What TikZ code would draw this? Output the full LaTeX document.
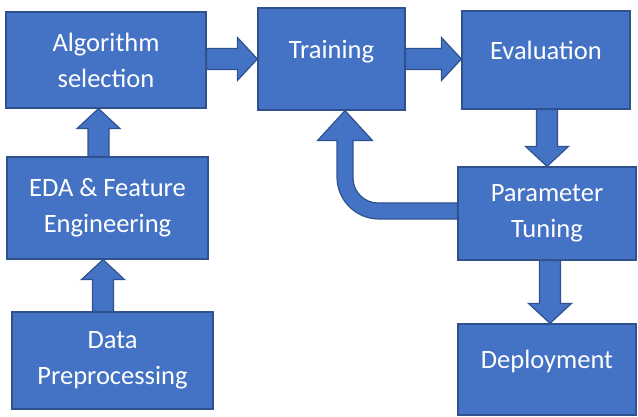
\documentclass[tikz,border=0pt]{standalone}
\usepackage{fontspec}
\setmainfont{Carlito}
\usetikzlibrary{calc}
\definecolor{officeblue}{RGB}{68,114,196}
\definecolor{officeedge}{RGB}{47,82,143}

\tikzset{
  flow/.style={draw=officeedge, fill=officeblue, line width=1.2pt, line join=miter},
  stage/.style={flow, text=white, align=center, inner sep=0pt,
                font=\fontsize{26.5}{36}\selectfont},
  oneline/.style={text height=18pt, text depth=19pt},
  % fat arrow: shaft 21pt wide, head 43pt wide and 20pt long
  blockarrow/.style={flow, to path={
      ($(\tikztostart)!10.5pt!90:(\tikztotarget)$)
      -- ($($(\tikztotarget)!20pt!(\tikztostart)$)!10.5pt!90:(\tikztotarget)$)
      -- ($($(\tikztotarget)!20pt!(\tikztostart)$)!21.5pt!90:(\tikztotarget)$)
      -- (\tikztotarget)
      -- ($($(\tikztotarget)!20pt!(\tikztostart)$)!21.5pt!-90:(\tikztotarget)$)
      -- ($($(\tikztotarget)!20pt!(\tikztostart)$)!10.5pt!-90:(\tikztotarget)$)
      -- ($(\tikztostart)!10.5pt!-90:(\tikztotarget)$)
      -- cycle}}
}

\begin{document}
\begin{tikzpicture}[x=1pt, y=1pt]
  \useasboundingbox (0,0) rectangle (638,417);

  % stages
  \node[stage, minimum width=200pt, minimum height=96pt]           (algo)   at (106,357)    {Algorithm\\selection};
  \node[stage, oneline, minimum width=147pt, minimum height=102pt] (train)  at (331.5,358)  {Training};
  \node[stage, oneline, minimum width=168pt, minimum height=98pt]  (eval)   at (546,357)    {Evaluation};
  \node[stage, minimum width=201pt, minimum height=102pt]          (eda)    at (107.5,209)  {EDA \& Feature\\Engineering};
  \node[stage, minimum width=178pt, minimum height=93pt]           (param)  at (547,203.5)  {Parameter\\Tuning};
  \node[stage, minimum width=201pt, minimum height=97pt]           (data)   at (112.5,56.5) {Data\\Preprocessing};
  \node[stage, oneline, minimum width=178pt, minimum height=91pt]  (deploy) at (547,47.5)   {Deployment};

  % straight arrows
  \path[blockarrow] ([xshift=-9.5pt]data.north) to ([xshift=-9.5pt]data.north |- eda.south);
  \path[blockarrow] ([xshift=-9pt]eda.north) to ([xshift=-9pt]eda.north |- algo.south);
  \path[blockarrow] (algo.east |- train.west) to (train.west);
  \path[blockarrow] (train.east) to (train.east -| eval.west);
  \path[blockarrow] (param.north |- eval.south) to (param.north);
  \path[blockarrow] ([xshift=3pt]param.south) to ([xshift=3pt]param.south |- deploy.north);

  % loop back from tuning to training
  \path[flow] let \p1=([yshift=2.5pt]param.west), \p2=([xshift=13.5pt]train.south) in
    (\x1,\y1+8pt) -- (\x2+33pt,\y1+8pt) arc[start angle=270, end angle=180, radius=25pt]
    -- (\x2+8pt,\y2-30pt) -- (\x2+27.5pt,\y2-30pt) -- (\x2,\y2)
    -- (\x2-27.5pt,\y2-30pt) -- (\x2-8pt,\y2-30pt)
    -- (\x2-8pt,\y1+34pt) arc[start angle=180, end angle=270, radius=42pt]
    -- (\x1,\y1-8pt) -- cycle;
\end{tikzpicture}
\end{document}
